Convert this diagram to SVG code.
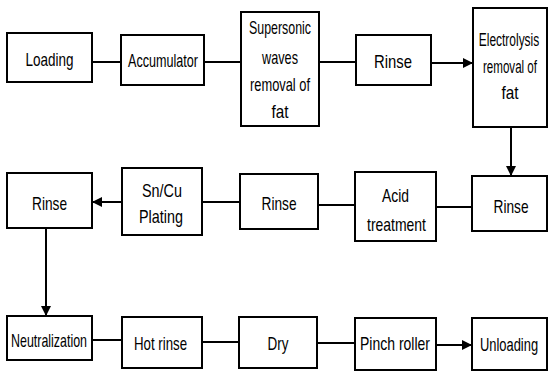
<svg xmlns="http://www.w3.org/2000/svg" width="548" height="372" viewBox="0 0 548 372">
<style>
.box{fill:#fff;stroke:#000;stroke-width:2}
.t{font-family:"Liberation Sans",Arial,sans-serif;font-size:19px;fill:#000;text-anchor:middle}
.c{stroke:#000;stroke-width:2;fill:none}
</style>
<defs>
<marker id="ah" viewBox="0 0 10 10" refX="10" refY="5" markerWidth="5" markerHeight="5" orient="auto" markerUnits="strokeWidth">
<path d="M0,0 L10,5 L0,10 z" fill="#000"/>
</marker>
</defs>
<rect width="548" height="372" fill="#fff"/>
<g id="connectors">
<line class="c" x1="92" y1="62" x2="121" y2="62"/>
<line class="c" x1="204" y1="62" x2="241" y2="62"/>
<line class="c" x1="319" y1="62" x2="356" y2="62"/>
<line class="c" x1="431" y1="63" x2="473" y2="63" marker-end="url(#ah)"/>
<line class="c" x1="511" y1="127" x2="511" y2="176" marker-end="url(#ah)"/>
<line class="c" x1="472" y1="207" x2="436" y2="207"/>
<line class="c" x1="355" y1="205" x2="318" y2="205"/>
<line class="c" x1="240" y1="202" x2="202" y2="202"/>
<line class="c" x1="122" y1="202" x2="92" y2="202" marker-end="url(#ah)"/>
<line class="c" x1="46" y1="228" x2="46" y2="316" marker-end="url(#ah)"/>
<line class="c" x1="92" y1="340" x2="122" y2="340"/>
<line class="c" x1="202" y1="342" x2="239" y2="342"/>
<line class="c" x1="317" y1="343" x2="355" y2="343"/>
<line class="c" x1="436" y1="345" x2="472" y2="345" marker-end="url(#ah)"/>
</g>
<g id="loading"><rect class="box" x="7" y="33" width="85" height="49"/><text class="t" x="49.5" y="66" textLength="48" lengthAdjust="spacingAndGlyphs">Loading</text></g>
<g id="accumulator"><rect class="box" x="121" y="35" width="83" height="50"/><text class="t" x="163" y="67" textLength="70" lengthAdjust="spacingAndGlyphs">Accumulator</text></g>
<g id="supersonic"><rect class="box" x="241" y="12" width="78" height="114"/>
<text class="t" x="280" y="34" textLength="62" lengthAdjust="spacingAndGlyphs">Supersonic</text>
<text class="t" x="280" y="64" textLength="36" lengthAdjust="spacingAndGlyphs">waves</text>
<text class="t" x="280" y="91" textLength="60" lengthAdjust="spacingAndGlyphs">removal of</text>
<text class="t" x="280" y="118" textLength="17" lengthAdjust="spacingAndGlyphs">fat</text></g>
<g id="rinse1"><rect class="box" x="356" y="35" width="75" height="50"/><text class="t" x="393" y="68" textLength="38" lengthAdjust="spacingAndGlyphs">Rinse</text></g>
<g id="electrolysis"><rect class="box" x="473" y="8" width="74" height="119"/>
<text class="t" transform="translate(509,46) scale(0.63,1)">Electrolysis</text>
<text class="t" transform="translate(510,73) scale(0.61,1)">removal of</text>
<text class="t" x="510" y="99" textLength="17" lengthAdjust="spacingAndGlyphs">fat</text></g>
<g id="rinse2"><rect class="box" x="472" y="176" width="75" height="55"/><text class="t" x="511" y="213" textLength="35" lengthAdjust="spacingAndGlyphs">Rinse</text></g>
<g id="acid"><rect class="box" x="355" y="172" width="81" height="69"/>
<text class="t" x="395.5" y="202" textLength="27" lengthAdjust="spacingAndGlyphs">Acid</text>
<text class="t" x="396.5" y="231" textLength="59" lengthAdjust="spacingAndGlyphs">treatment</text></g>
<g id="rinse3"><rect class="box" x="240" y="174" width="78" height="55"/><text class="t" x="279" y="210" textLength="35" lengthAdjust="spacingAndGlyphs">Rinse</text></g>
<g id="plating"><rect class="box" x="122" y="168" width="80" height="67"/>
<text class="t" x="162" y="197" textLength="40" lengthAdjust="spacingAndGlyphs">Sn/Cu</text>
<text class="t" x="161" y="223" textLength="44" lengthAdjust="spacingAndGlyphs">Plating</text></g>
<g id="rinse4"><rect class="box" x="7" y="173" width="85" height="55"/><text class="t" x="49.5" y="210" textLength="35" lengthAdjust="spacingAndGlyphs">Rinse</text></g>
<g id="neutralization"><rect class="box" x="7" y="316" width="85" height="44"/><text class="t" x="49" y="347" textLength="76" lengthAdjust="spacingAndGlyphs">Neutralization</text></g>
<g id="hotrinse"><rect class="box" x="122" y="317" width="80" height="51"/><text class="t" x="160.5" y="350" textLength="53" lengthAdjust="spacingAndGlyphs">Hot rinse</text></g>
<g id="dry"><rect class="box" x="239" y="317" width="78" height="51"/><text class="t" x="278" y="350" textLength="21" lengthAdjust="spacingAndGlyphs">Dry</text></g>
<g id="pinch"><rect class="box" x="355" y="318" width="81" height="52"/><text class="t" x="395" y="350" textLength="70" lengthAdjust="spacingAndGlyphs">Pinch roller</text></g>
<g id="unloading"><rect class="box" x="472" y="318" width="75" height="52"/><text class="t" transform="translate(509,351) scale(0.68,1)">Unloading</text></g>
</svg>
